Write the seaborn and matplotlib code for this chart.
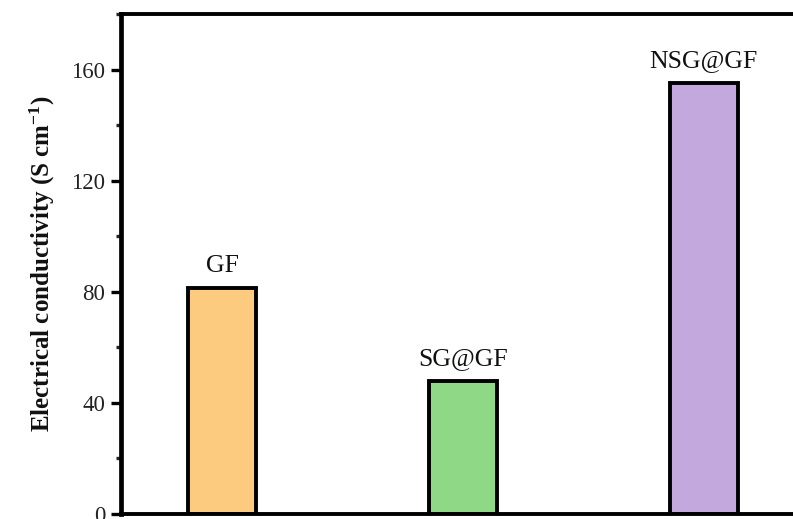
import matplotlib
matplotlib.use("Agg")
import matplotlib.pyplot as plt
from matplotlib.ticker import MultipleLocator
import seaborn as sns
import pandas as pd

samples = ["GF", "SG@GF", "NSG@GF"]
conductivity = [81.5, 47.8, 155.0]
bar_colors = ["#FDCB80", "#8ED886", "#C2A8DC"]
y_ticks = [0, 40, 80, 120, 160]

sns.set_theme(style="white")
plt.rcParams["font.family"] = ["Liberation Serif", "DejaVu Serif"]
plt.rcParams["mathtext.fontset"] = "custom"
plt.rcParams["mathtext.rm"] = "Liberation Serif"
plt.rcParams["mathtext.bf"] = "Liberation Serif:bold"
plt.rcParams["mathtext.it"] = "Liberation Serif:italic"

W, H = 793, 519
fig = plt.figure(figsize=(W / 100, H / 100), dpi=100)
# axes frame: left spine at x=121, top at y=14, zero line at y=514; right side runs past the edge
x0, x1 = 121, 805
y_top, y_bot = 14, 514
ax = fig.add_axes([x0 / W, (H - y_bot) / H, (x1 - x0) / W, (y_bot - y_top) / H])

df = pd.DataFrame({"sample": samples, "value": conductivity})
sns.barplot(data=df, x="sample", y="value", hue="sample", palette=bar_colors,
            width=0.28, edgecolor="black", linewidth=2.8, legend=False, ax=ax,
            saturation=1)

for i, (s, v) in enumerate(zip(samples, conductivity)):
    ax.annotate(s, xy=(i, v), xytext=(0, 8), textcoords="offset points",
                ha="center", va="bottom", fontsize=18.5, color="#111111")

ax.set_xlim(-0.42, 2.42)
ax.set_ylim(0, 180)
ax.set_yticks(y_ticks)
ax.yaxis.set_minor_locator(MultipleLocator(20))
ax.tick_params(axis="y", which="major", direction="out", length=7.5, width=2.4,
               labelsize=16.5, left=True, pad=4, colors="black", labelcolor="#222222")
ax.tick_params(axis="y", which="minor", direction="out", length=3.8, width=2.4, left=True)
ax.tick_params(axis="x", bottom=False, labelbottom=False)
ax.set_xlabel("")
ax.set_ylabel(r"Electrical conductivity (S cm$^{\mathbf{-1}}$)", fontsize=18,
              fontweight="bold", labelpad=10, color="#111111")
for side in ["left", "right"]:
    ax.spines[side].set_linewidth(3.4)
for side in ["top", "bottom"]:
    ax.spines[side].set_linewidth(2.8)
for side in ["left", "top", "bottom", "right"]:
    ax.spines[side].set_color("black")
    ax.spines[side].set_visible(True)

fig.savefig("out.png", dpi=100)
